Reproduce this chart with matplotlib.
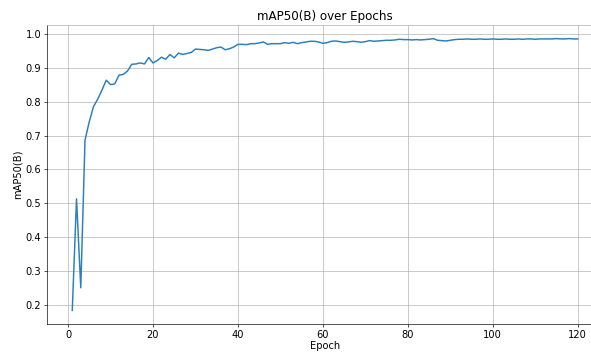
import matplotlib
matplotlib.use("Agg")
import matplotlib.pyplot as plt

# mAP50(B) per epoch
epochs = list(range(1, 121))
map50 = [
    0.183, 0.513, 0.250, 0.687, 0.741, 0.786, 0.808, 0.835, 0.864, 0.851,
    0.853, 0.879, 0.881, 0.891, 0.911, 0.912, 0.915, 0.912, 0.931, 0.915,
    0.922, 0.932, 0.926, 0.940, 0.930, 0.944, 0.940, 0.943, 0.946, 0.956,
    0.955, 0.954, 0.952, 0.956, 0.960, 0.962, 0.954, 0.957, 0.962, 0.970,
    0.970, 0.969, 0.972, 0.972, 0.974, 0.977, 0.970, 0.972, 0.972, 0.972,
    0.975, 0.973, 0.976, 0.972, 0.975, 0.977, 0.979, 0.979, 0.977, 0.973,
    0.975, 0.979, 0.980, 0.978, 0.976, 0.977, 0.979, 0.978, 0.976, 0.978,
    0.981, 0.979, 0.980, 0.981, 0.982, 0.982, 0.983, 0.985, 0.984, 0.984,
    0.983, 0.984, 0.983, 0.984, 0.985, 0.987, 0.982, 0.981, 0.980, 0.982,
    0.984, 0.985, 0.985, 0.986, 0.985, 0.985, 0.986, 0.985, 0.985, 0.986,
    0.985, 0.985, 0.986, 0.985, 0.985, 0.986, 0.985, 0.986, 0.986, 0.985,
    0.986, 0.986, 0.986, 0.986, 0.987, 0.986, 0.986, 0.987, 0.986, 0.986,
]

plt.rcParams["font.size"] = 12

fig = plt.figure(figsize=(10, 353 / 59.1), dpi=59.1)
ax = fig.add_axes([47 / 591, 29 / 353, 556 / 591, 299 / 353])

ax.plot(epochs, map50, color="#2a7fbd", linewidth=1.8)
ax.set_title("mAP50(B) over Epochs", fontsize=14.5)
ax.set_xlabel("Epoch", labelpad=2)
ax.set_ylabel("mAP50(B)")
ax.tick_params(labelsize=12)
ax.grid(True)
ax.spines["top"].set_color("#a8a8a8")
ax.spines["right"].set_visible(False)

fig.savefig("out.png", dpi=59.1)
